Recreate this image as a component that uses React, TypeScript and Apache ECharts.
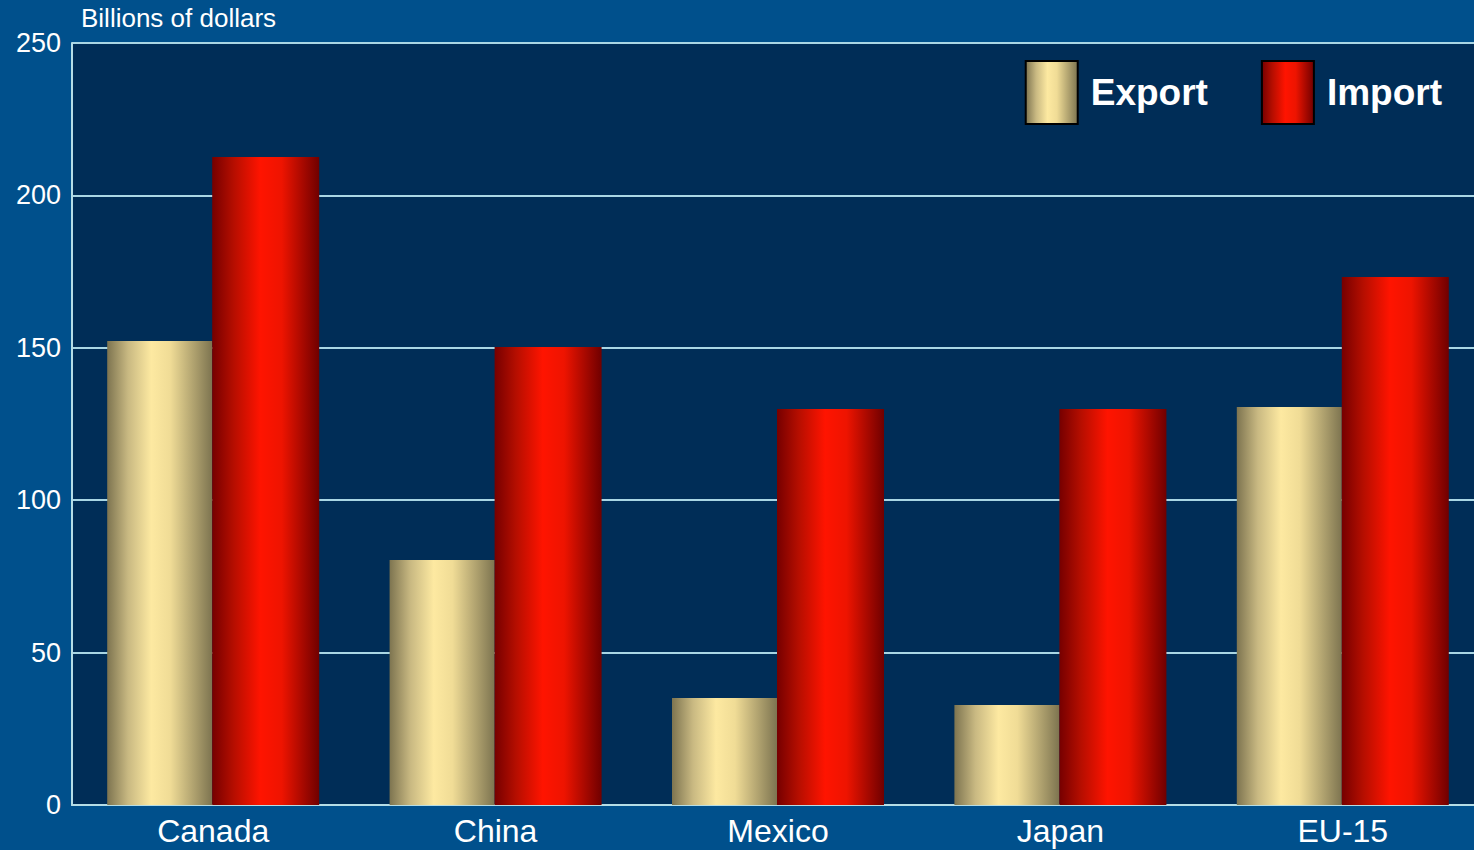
import React, { useEffect, useRef } from "react";
import * as echarts from "echarts";

const categories = ["Canada", "China", "Mexico", "Japan", "EU-15"];
const exportValues = [152.2, 80.4, 35.1, 32.8, 130.6];
const importValues = [212.6, 150.3, 129.9, 129.9, 173.2];
const yTicks = [0, 50, 100, 150, 200, 250];

const exportGradient = new echarts.graphic.LinearGradient(0, 0, 1, 0, [
  { offset: 0, color: "#7d7450" },
  { offset: 0.2, color: "#c9b982" },
  { offset: 0.42, color: "#fde9a1" },
  { offset: 0.6, color: "#f0dc96" },
  { offset: 1, color: "#7d7450" },
]);
const importGradient = new echarts.graphic.LinearGradient(0, 0, 1, 0, [
  { offset: 0, color: "#760000" },
  { offset: 0.2, color: "#b50e00" },
  { offset: 0.45, color: "#ff1400" },
  { offset: 0.65, color: "#ee1400" },
  { offset: 1, color: "#700000" },
]);

const FONT = "Liberation Sans, Arial, sans-serif";

export default function App() {
  const ref = useRef<HTMLDivElement>(null);
  useEffect(() => {
    if (!ref.current) return;
    const chart = echarts.init(ref.current, undefined, { renderer: "svg" });
    chart.setOption({
      animation: false,
      backgroundColor: "#00508c",
      textStyle: { fontFamily: FONT },
      grid: {
        left: 72,
        right: 0,
        top: 43,
        bottom: 45,
        show: true,
        backgroundColor: "#002d57",
        borderWidth: 0,
      },
      graphic: [
        {
          type: "text",
          left: 81,
          top: 5,
          style: {
            text: "Billions of dollars",
            fill: "#ffffff",
            fontSize: 26,
            fontFamily: FONT,
          },
        },
      ],
      legend: {
        top: 55,
        right: 37,
        itemWidth: 52,
        itemHeight: 63,
        itemGap: 53,
        icon: "rect",
        itemStyle: { borderColor: "#000000", borderWidth: 2 },
        textStyle: {
          color: "#ffffff",
          fontSize: 37,
          fontWeight: "bold",
          fontFamily: FONT,
          padding: [0, 0, 0, 8],
        },
        data: ["Export", "Import"],
      },
      xAxis: {
        type: "category",
        data: categories,
        axisLine: { show: true, lineStyle: { color: "#b5dde6", width: 2 } },
        axisTick: { show: false },
        axisLabel: { color: "#ffffff", fontSize: 32, margin: 10 },
      },
      yAxis: {
        type: "value",
        min: yTicks[0],
        max: yTicks[yTicks.length - 1],
        interval: 50,
        axisLine: { show: true, lineStyle: { color: "#b5dde6", width: 2 } },
        axisTick: { show: false },
        axisLabel: { color: "#ffffff", fontSize: 27, margin: 11 },
        splitLine: { show: true, lineStyle: { color: "#a9d6e4", width: 2 } },
      },
      series: [
        {
          name: "Export",
          type: "bar",
          data: exportValues,
          barWidth: 105,
          barGap: "0%",
          itemStyle: { color: exportGradient },
        },
        {
          name: "Import",
          type: "bar",
          data: importValues,
          barWidth: 107,
          barGap: "0%",
          itemStyle: { color: importGradient },
        },
      ],
    });
    return () => chart.dispose();
  }, []);
  return (
    <div
      style={{
        position: "fixed",
        left: 0,
        top: 0,
        width: 1474,
        height: 850,
        overflow: "hidden",
        background: "#00508c",
      }}
    >
      <div ref={ref} style={{ width: 1484, height: 850 }} />
    </div>
  );
}
